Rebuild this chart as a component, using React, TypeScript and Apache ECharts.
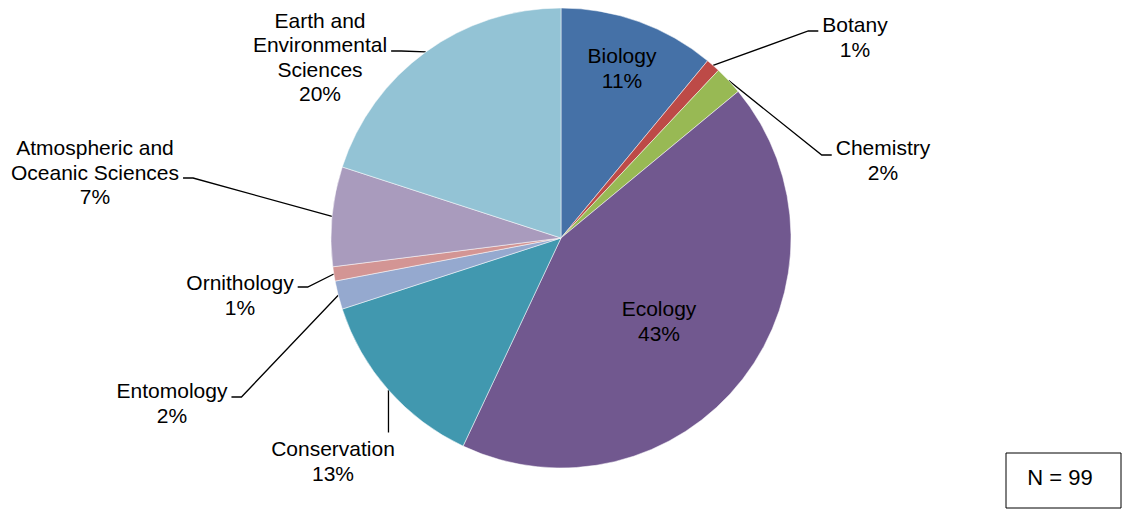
import React, { useEffect, useRef } from "react";
import * as echarts from "echarts";

// Research fields of respondents, share of total (%)
const fields = [
  "Biology",
  "Botany",
  "Chemistry",
  "Ecology",
  "Conservation",
  "Entomology",
  "Ornithology",
  "Atmospheric and\nOceanic Sciences",
  "Earth and\nEnvironmental\nSciences",
];
const shares = [11, 1, 2, 43, 13, 2, 1, 7, 20];
const sliceColors = [
  "#4571A7",
  "#BD4A47",
  "#98B954",
  "#71588F",
  "#4198AF",
  "#95A9CF",
  "#D39594",
  "#A99BBD",
  "#93C3D5",
];
const sampleSize = 99;

// Pie geometry (px)
const CX = 561;
const CY = 238;
const R = 230;

// Where each label sits (centre of the text block) and which edge the leader meets
type Spot = { x: number; y: number; inside?: boolean; side?: "left" | "right" | "top"; lineY?: number };
const labelSpots: Spot[] = [
  { x: 622, y: 68, inside: true },
  { x: 855, y: 37, side: "left", lineY: 31 },
  { x: 883, y: 160, side: "left", lineY: 155 },
  { x: 659, y: 321, inside: true },
  { x: 333, y: 461, side: "top" },
  { x: 172, y: 403, side: "right", lineY: 397 },
  { x: 240, y: 295, side: "right", lineY: 287 },
  { x: 95, y: 172, side: "right", lineY: 178 },
  { x: 320, y: 57, side: "right", lineY: 51 },
];

const FONT = "'Liberation Sans', Arial, sans-serif";

// Mid-point of a slice's outer arc, from the cumulative shares
function arcMid(index: number): [number, number] {
  const total = shares.reduce((a, b) => a + b, 0);
  let before = 0;
  for (let i = 0; i < index; i++) before += shares[i];
  const theta = ((before + shares[index] / 2) / total) * Math.PI * 2;
  return [CX + R * Math.sin(theta), CY - R * Math.cos(theta)];
}

export default function App() {
  const ref = useRef<HTMLDivElement>(null);

  useEffect(() => {
    if (!ref.current) return;
    const chart = echarts.init(ref.current, undefined, { renderer: "svg" });

    const data = fields.map((name, i) => {
      const spot = labelSpots[i];
      return {
        name,
        value: shares[i],
        itemStyle: { color: sliceColors[i] },
        label: { position: spot.inside ? "inside" : "outside" },
        labelLine: { show: !spot.inside },
      };
    });

    chart.setOption({
      animation: false,
      backgroundColor: "#ffffff",
      series: [
        {
          type: "pie",
          center: [CX, CY],
          radius: R,
          startAngle: 90,
          clockwise: true,
          avoidLabelOverlap: false,
          itemStyle: { borderColor: "#ffffff", borderWidth: 0.5 },
          emphasis: { disabled: true },
          label: {
            formatter: "{b}\n{c}%",
            fontFamily: FONT,
            fontSize: 21,
            lineHeight: 24.5,
            color: "#000000",
            align: "center",
          },
          labelLine: {
            lineStyle: { color: "#000000", width: 1.3 },
          },
          labelLayout: (params: any) => {
            const i = params.dataIndex;
            const spot = labelSpots[i];
            const out: any = {
              x: spot.x,
              y: spot.y,
              align: "center",
              verticalAlign: "middle",
            };
            if (!spot.inside) {
              const w = params.labelRect.width;
              const h = params.labelRect.height;
              const [ax, ay] = arcMid(i);
              if (spot.side === "top") {
                const yEnd = spot.y - h / 2 - 4;
                out.labelLinePoints = [
                  [ax, ay],
                  [ax, yEnd],
                  [ax, yEnd],
                ];
              } else {
                const dir = spot.side === "left" ? -1 : 1;
                const edge = spot.x + dir * (w / 2 + 4);
                const ly = spot.lineY ?? spot.y;
                out.labelLinePoints = [
                  [ax, ay],
                  [edge + dir * 10, ly],
                  [edge, ly],
                ];
              }
            }
            return out;
          },
          data,
        },
      ],
      graphic: [
        {
          type: "rect",
          shape: { x: 1006, y: 453, width: 115, height: 55 },
          style: { fill: "#ffffff", stroke: "#000000", lineWidth: 1 },
        },
        {
          type: "text",
          x: 1060,
          y: 477,
          style: {
            text: `N = ${sampleSize}`,
            fontFamily: FONT,
            fontSize: 22,
            fill: "#000000",
            align: "center",
            verticalAlign: "middle",
          },
        },
      ],
    });

    return () => chart.dispose();
  }, []);

  return (
    <div
      ref={ref}
      style={{ position: "absolute", left: 0, top: 0, width: 1122, height: 510 }}
    />
  );
}
